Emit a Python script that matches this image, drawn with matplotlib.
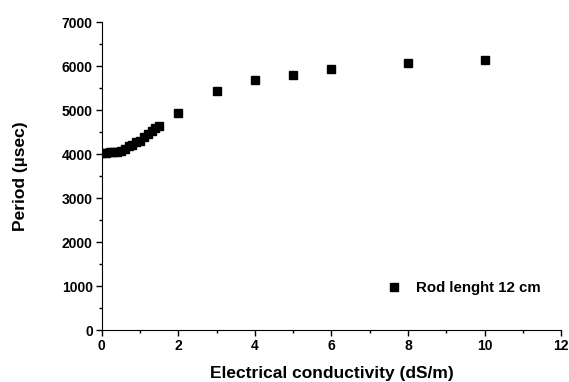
import matplotlib
matplotlib.use("Agg")
import matplotlib.pyplot as plt
from matplotlib.ticker import MultipleLocator

plt.rcParams['font.family'] = ['Liberation Sans', 'DejaVu Sans']
plt.rcParams['font.weight'] = 'bold'

conductivity = [0, 0.1, 0.2, 0.3, 0.4, 0.5, 0.6, 0.7, 0.8, 0.9, 1.0, 1.1, 1.2, 1.3, 1.4, 1.5,
                2, 3, 4, 5, 6, 8, 10]
period = [4020, 4030, 4040, 4040, 4050, 4060, 4120, 4180, 4200, 4270, 4300, 4380, 4450, 4520, 4590, 4640,
          4940, 5430, 5680, 5800, 5930, 6080, 6150]
series_label = "Rod lenght 12 cm"

fig = plt.figure(figsize=(5.69, 3.82), dpi=100)
ax = fig.add_axes([0.179, 0.136, 0.807, 0.806])
ax.plot(conductivity, period, linestyle='none', marker='s', markersize=5.3,
        color='black', label=series_label)
ax.set_xlim(0, 12)
ax.set_ylim(0, 7000)
ax.xaxis.set_major_locator(MultipleLocator(2))
ax.xaxis.set_minor_locator(MultipleLocator(1))
ax.yaxis.set_major_locator(MultipleLocator(1000))
ax.yaxis.set_minor_locator(MultipleLocator(500))
for s in ['top', 'right']:
    ax.spines[s].set_visible(False)
ax.tick_params(which='major', length=4, width=1, labelsize=10, direction='out', pad=2.5)
ax.tick_params(which='minor', length=2, width=1, direction='out')
ax.set_xlabel("Electrical conductivity (dS/m)", fontsize=12.5, fontweight='bold', labelpad=9)
ax.set_ylabel("Period (\u00b5sec)", fontsize=12.5, fontweight='bold', labelpad=24)
ax.legend(loc='lower right', frameon=False, fontsize=10.8, bbox_to_anchor=(0.985, 0.07),
          handletextpad=0.7, handlelength=1.6)
fig.savefig("out.png", dpi=100)
